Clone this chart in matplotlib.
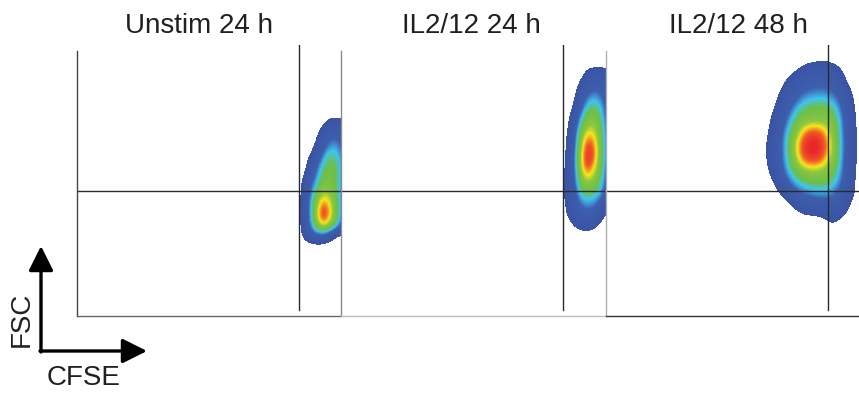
import numpy as np
import matplotlib
matplotlib.use("Agg")
import matplotlib.pyplot as plt
from matplotlib.colors import LinearSegmentedColormap, Normalize

plt.rcParams["font.family"] = ["Liberation Sans", "DejaVu Sans"]

# ---------------------------
# Data (channel units 0-1024, pseudocolor density levels)
# ---------------------------
titles = ["Unstim 24 h", "IL2/12 24 h", "IL2/12 48 h"]
cfse_gate = 860
fsc_gate = 472

# Unstim 24 h
cfse_bins_1 = [856, 880, 904, 928, 952, 976, 1000, 1024, 1048]
fsc_bins_1 = [760, 722, 684, 646, 608, 570, 532, 494, 456, 418, 380, 342, 304, 266]
density_1 = [
    [0, 0, 0, 0, 0, 0, 0, 0, 0],
    [0, 0, 0, 0, 0.4, 1.3, 1.6, 1.5, 0.8],
    [0, 0, 0, 0.3, 1.5, 2.2, 2.5, 2.0, 1.2],
    [0, 0, 0, 0.8, 2.0, 3.0, 3.2, 2.5, 1.5],
    [0, 0, 0.6, 1.5, 3.0, 4.0, 3.8, 3.0, 1.8],
    [0, 0.1, 1.2, 2.5, 3.8, 4.6, 4.3, 3.1, 1.8],
    [0, 0.5, 1.8, 3.1, 4.4, 4.8, 4.4, 3.1, 1.8],
    [0, 1.0, 2.5, 3.8, 5.0, 5.1, 4.4, 3.0, 1.6],
    [0, 1.2, 2.9, 4.8, 6.2, 5.8, 4.4, 3.0, 1.5],
    [0, 1.3, 3.3, 5.8, 7.8, 6.8, 4.8, 3.0, 1.4],
    [0, 1.3, 3.3, 6.0, 8.5, 7.0, 4.8, 2.9, 1.3],
    [0, 1.2, 2.9, 5.0, 6.4, 5.4, 3.8, 2.5, 1.0],
    [0, 0.8, 1.6, 2.2, 2.0, 1.2, 0.3, 0, 0],
    [0, 0, 0, 0, 0, 0, 0, 0, 0],
]

# IL2/12 24 h
cfse_bins_2 = [856, 880, 904, 928, 952, 976, 1000, 1024, 1048]
fsc_bins_2 = [948, 910, 872, 834, 796, 758, 720, 682, 644, 606, 568, 530,
              492, 454, 416, 378, 340, 302]
density_2 = [
    [0, 0, 0, 0, 0, 0, 0, 0, 0],
    [0, 0, 0, 0.1, 0.9, 1.4, 1.4, 1.2, 0.6],
    [0, 0, 0, 0.8, 1.8, 2.2, 2.2, 1.8, 1.0],
    [0, 0, 0.3, 1.5, 2.5, 3.0, 2.8, 2.0, 1.2],
    [0, 0, 0.6, 2.0, 3.5, 4.0, 3.5, 2.4, 1.3],
    [0, 0.2, 1.2, 3.0, 4.5, 4.8, 4.2, 2.6, 1.4],
    [0, 0.4, 1.8, 4.0, 5.5, 5.8, 4.6, 2.8, 1.4],
    [0, 0.6, 2.2, 5.0, 6.8, 6.6, 5.0, 3.0, 1.5],
    [0, 0.8, 2.5, 5.6, 8.0, 7.5, 5.2, 3.0, 1.5],
    [0, 0.9, 2.8, 6.0, 8.6, 7.8, 5.2, 3.0, 1.5],
    [0.1, 1.0, 2.8, 6.0, 8.2, 7.0, 5.0, 2.8, 1.4],
    [0.2, 1.0, 2.6, 5.4, 6.8, 6.0, 4.6, 2.6, 1.3],
    [0.2, 1.0, 2.4, 4.6, 5.2, 5.0, 4.0, 2.4, 1.2],
    [0.2, 1.0, 2.0, 3.6, 4.0, 3.8, 3.2, 2.0, 0.8],
    [0.1, 0.9, 1.8, 2.6, 3.0, 2.8, 2.2, 1.0, 0.3],
    [0, 0.6, 1.5, 2.0, 2.2, 2.0, 1.2, 0.3, 0],
    [0, 0, 0.5, 0.9, 1.0, 0.8, 0.2, 0, 0],
    [0, 0, 0, 0, 0, 0, 0, 0, 0],
]

# IL2/12 48 h
cfse_bins_3 = [613, 644, 675, 706, 737, 768, 799, 830, 861, 892, 923, 954, 985]
fsc_bins_3 = [967, 929, 891, 853, 815, 777, 739, 701, 663, 625, 587, 549,
              511, 473, 435, 397, 359]
density_3 = [
    [0, 0, 0, 0, 0, 0, 0.1, 0.2, 0.2, 0, 0, 0, 0],
    [0, 0, 0, 0, 0.3, 1.0, 1.5, 1.6, 1.6, 1.0, 0.3, 0, 0],
    [0, 0, 0, 0.6, 1.5, 2.0, 2.2, 2.2, 2.2, 1.8, 0.6, 0, 0],
    [0, 0, 0.4, 1.3, 2.0, 2.5, 2.7, 2.8, 2.7, 2.3, 1.5, 0.3, 0],
    [0, 0, 0.8, 1.8, 2.6, 3.3, 3.6, 3.7, 3.6, 3.0, 2.0, 0.6, 0],
    [0, 0.3, 1.3, 2.3, 3.5, 4.3, 4.6, 4.7, 4.6, 3.8, 2.2, 0.8, 0],
    [0, 0.6, 1.6, 3.0, 4.3, 5.0, 5.3, 5.3, 5.2, 4.4, 2.5, 1.0, 0],
    [0.1, 0.8, 2.0, 3.6, 5.0, 6.8, 7.6, 7.4, 6.2, 4.6, 2.6, 1.1, 0],
    [0.2, 1.0, 2.2, 4.0, 6.0, 8.0, 8.6, 8.3, 7.0, 4.8, 2.7, 1.2, 0],
    [0.3, 1.0, 2.2, 4.0, 6.2, 8.2, 8.8, 8.5, 7.0, 4.8, 2.7, 1.2, 0],
    [0.2, 1.0, 2.2, 3.8, 5.6, 7.4, 7.9, 7.6, 6.2, 4.6, 2.6, 1.1, 0],
    [0.1, 0.8, 2.0, 3.4, 4.6, 5.4, 5.8, 5.6, 5.2, 4.2, 2.5, 1.0, 0],
    [0, 0.3, 1.5, 2.6, 3.6, 4.2, 4.6, 4.6, 4.4, 3.6, 2.3, 0.8, 0],
    [0, 0, 0.6, 1.8, 2.5, 3.0, 3.3, 3.4, 3.4, 2.8, 2.0, 0.8, 0],
    [0, 0, 0, 0.4, 1.4, 1.9, 2.2, 2.4, 2.4, 2.2, 1.5, 0.4, 0],
    [0, 0, 0, 0, 0.3, 0.8, 0.9, 1.0, 1.3, 1.4, 0.9, 0, 0],
    [0, 0, 0, 0, 0, 0, 0, 0.1, 0.4, 0.45, 0.1, 0, 0],
]

panels = [
    (cfse_bins_1, fsc_bins_1, density_1),
    (cfse_bins_2, fsc_bins_2, density_2),
    (cfse_bins_3, fsc_bins_3, density_3),
]

# ---------------------------
# Pseudocolor map (FlowJo style)
# ---------------------------
vmin, vmax = 0.5, 9.0
stops = [(0.5, "#3b54a4"), (2.6, "#3e5eae"), (3.5, "#40c4ee"), (4.3, "#6cbf4a"),
         (5.6, "#8cc63f"), (6.5, "#f5e61d"), (7.5, "#f15a24"), (8.5, "#e8262b"),
         (9.0, "#e31e24")]
cmap = LinearSegmentedColormap.from_list(
    "flow", [((v - vmin) / (vmax - vmin), c) for v, c in stops])
cmap.set_under((1, 1, 1, 0))
cmap.set_bad((1, 1, 1, 0))
norm = Normalize(vmin, vmax)

W, H = 859, 396
fig = plt.figure(figsize=(W / 100, H / 100), dpi=100)

panel_left = [77, 341, 606]
spine_left_col = ["#444444", "#8a8a8a", "#b0b0b0"]
spine_bot_col = ["#666666", "#c0c0c0", "#333333"]
title_x = [0.462, 0.493, 0.5]

for i, (xb, yb, dens) in enumerate(panels):
    ax = fig.add_axes([panel_left[i] / W, 80 / H, 264 / W, 271 / H])
    dx = xb[1] - xb[0]
    dy = yb[0] - yb[1]
    ext = [xb[0] - dx / 2, xb[-1] + dx / 2, yb[-1] - dy / 2, yb[0] + dy / 2]
    ax.imshow(np.array(dens), extent=ext, origin="upper", aspect="auto",
              cmap=cmap, norm=norm, interpolation="bicubic",
              interpolation_stage="data")
    ax.set_xlim(0, 1024)
    ax.set_ylim(0, 1024)
    ax.set_xticks([])
    ax.set_yticks([])
    ax.spines["top"].set_visible(False)
    ax.spines["right"].set_visible(False)
    ax.spines["left"].set_color(spine_left_col[i])
    ax.spines["bottom"].set_color(spine_bot_col[i])
    ax.spines["left"].set_bounds(0, 1000)
    ax.spines["left"].set_linewidth(1.0)
    ax.spines["bottom"].set_linewidth(1.0)
    ax.axvline(cfse_gate, ymin=23 / 1024, ymax=1, color="#2a2a2a", lw=1.0)
    ax.axhline(fsc_gate, color="#2a2a2a", lw=1.0)
    ax.text(title_x[i], 1.044, titles[i], transform=ax.transAxes, ha="center",
            va="baseline", fontsize=20, color="#231f20")

# ---------------------------
# Axis direction arrows
# ---------------------------
arrow_kw = dict(arrowstyle="-|>,head_length=0.6,head_width=0.3", color="black",
                lw=2.4, mutation_scale=25, shrinkA=0, shrinkB=0)
fig.axes[0].annotate("", xy=(41, 150), xytext=(41, 44), xycoords="figure pixels",
                     textcoords="figure pixels", arrowprops=arrow_kw)
fig.axes[0].annotate("", xy=(147, 45), xytext=(40, 45), xycoords="figure pixels",
                     textcoords="figure pixels", arrowprops=arrow_kw)
fig.text(22 / W, (396 - 319) / H, "FSC", rotation=90, ha="center", va="center",
         fontsize=20, color="#231f20")
fig.text(84 / W, 18 / H, "CFSE", ha="center", va="center", fontsize=20,
         color="#231f20")

fig.savefig("out.png", dpi=100)
